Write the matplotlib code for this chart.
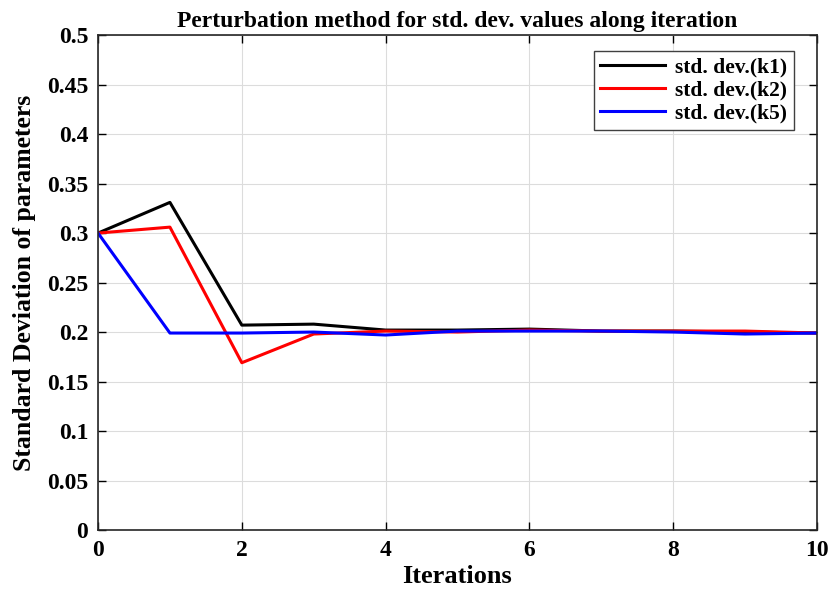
import matplotlib.pyplot as plt

iterations = [0, 1, 2, 3, 4, 5, 6, 7, 8, 9, 10]
std_k1 = [0.300, 0.331, 0.207, 0.208, 0.202, 0.202, 0.203, 0.201, 0.201, 0.200, 0.199]
std_k2 = [0.300, 0.306, 0.169, 0.198, 0.201, 0.200, 0.202, 0.201, 0.201, 0.201, 0.199]
std_k5 = [0.300, 0.199, 0.199, 0.200, 0.197, 0.201, 0.201, 0.201, 0.200, 0.198, 0.199]
yticks = [0, 0.05, 0.1, 0.15, 0.2, 0.25, 0.3, 0.35, 0.4, 0.45, 0.5]

plt.rcParams['font.family'] = ['Liberation Serif', 'DejaVu Serif']
plt.rcParams['font.weight'] = 'bold'

fig = plt.figure(figsize=(8.35, 5.97), dpi=100)
ax = fig.add_axes([0.1174, 0.1122, 0.861, 0.829])

ax.plot(iterations, std_k1, color='black', lw=2.2, label='std. dev.(k1)')
ax.plot(iterations, std_k2, color='red', lw=2.2, label='std. dev.(k2)')
ax.plot(iterations, std_k5, color='blue', lw=2.2, label='std. dev.(k5)')

ax.set_xlim(0, 10)
ax.set_ylim(0, 0.5)
ax.set_xticks(range(0, 11, 2))
ax.set_yticks(yticks)
ax.set_yticklabels(['0' if v == 0 else f'{v:g}' for v in yticks])
ax.grid(True, color='#dcdcdc', lw=0.8)
ax.tick_params(direction='in', top=True, right=True, labelsize=17, width=1, length=6, pad=7)
for lbl in ax.get_xticklabels() + ax.get_yticklabels():
    lbl.set_fontweight('bold')
for s in ax.spines.values():
    s.set_linewidth(1.2)
    s.set_color('#262626')

ax.set_xlabel('Iterations', fontsize=19, fontweight='bold', labelpad=3)
ax.set_ylabel('Standard Deviation of parameters', fontsize=18.5, fontweight='bold', labelpad=8)
ax.set_title('Perturbation method for std. dev. values along iteration', fontsize=17, fontweight='bold', pad=6)

leg = ax.legend(loc='upper right', bbox_to_anchor=(0.983, 0.99), prop={'weight': 'bold', 'size': 15.5},
                fancybox=False, edgecolor='#404040', framealpha=1, handlelength=3.0, borderpad=0.3,
                labelspacing=0.15, handletextpad=0.5)
leg.get_frame().set_linewidth(1)

fig.savefig('out.png', dpi=100)
